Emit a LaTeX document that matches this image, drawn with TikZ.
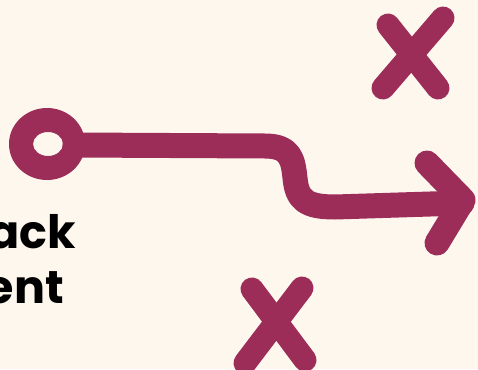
\documentclass[tikz,border=0pt]{standalone}
\usepackage{fontspec}
\setmainfont{Poppins}
\definecolor{bg}{RGB}{254,247,238}
\definecolor{mar}{RGB}{155,45,88}
\tikzset{
  stroke/.style={draw=mar, line width=25pt, line cap=round, line join=round},
  xmark/.style={draw=mar, line width=23pt, line cap=round},
  lbl/.style={font=\fontsize{46}{50}\selectfont\bfseries, text=black, anchor=base east, inner sep=0pt}
}
\begin{document}
\begin{tikzpicture}[x=1pt,y=-1pt]
\fill[bg] (0,0) rectangle (478,369);
\useasboundingbox (0,0) rectangle (478,369);
\clip (0,0) rectangle (478,369);
% path
\draw[stroke] (75,145) -- (265,146) .. controls (291,146) and (293,160) .. (295,178)
  .. controls (297,200) and (306,207) .. (335,207) -- (462,203);
\draw[stroke] (427,163) -- (463,200) -- (437,243);
% ring
\fill[mar, even odd rule] (47,144) ellipse [x radius=38, y radius=36]
  (48,144) ellipse [x radius=15, y radius=12];
% X marks
\draw[xmark] (388,25) -- (438,88);
\draw[xmark] (443,18) -- (383,88);
\draw[xmark] (252,289) -- (305,360);
\draw[xmark] (302,288) -- (245,363);
% text
\node[lbl] (t1) at (76,248) {ack};
\node[lbl] (t2) at (64,303) {ent};
\end{tikzpicture}
\end{document}
